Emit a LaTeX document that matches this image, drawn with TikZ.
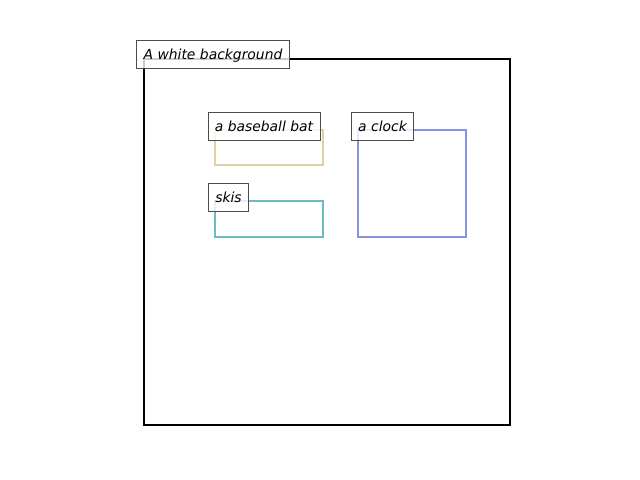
\documentclass[tikz,border=0pt]{standalone}
\usepackage{fontspec}
\setmainfont{DejaVu Sans}
\begin{document}
\begin{tikzpicture}[x=0.72pt, y=-0.72pt]
\tikzset{etiquette/.style={draw=black!70, fill=white, fill opacity=0.8, text opacity=1, inner xsep=5pt, inner ysep=5pt, text height=8.6pt, text depth=1.4pt, font=\itshape\fontsize{10pt}{12pt}\selectfont}}
\tikzset{cadre/.style={line width=1.6pt}}
\useasboundingbox (0, 0) rectangle (640, 480);
\draw[cadre, black] (144, 59) rectangle (510, 425);
\draw[cadre, color={rgb,255:red,226;green,208;blue,164}] (215, 130) rectangle (323, 165);
\draw[cadre, color={rgb,255:red,110;green,186;blue,194}] (215, 201) rectangle (323, 237);
\draw[cadre, color={rgb,255:red,136;green,146;blue,226}] (358, 130) rectangle (466, 237);
\node[etiquette] (Fond) at (213, 54) {A white background};
\node[etiquette] (Batte) at (264, 126) {a baseball bat};
\node[etiquette] (Skis) at (228.5, 197) {skis};
\node[etiquette] (Horloge) at (382.5, 126) {a clock};
\end{tikzpicture}
\end{document}
